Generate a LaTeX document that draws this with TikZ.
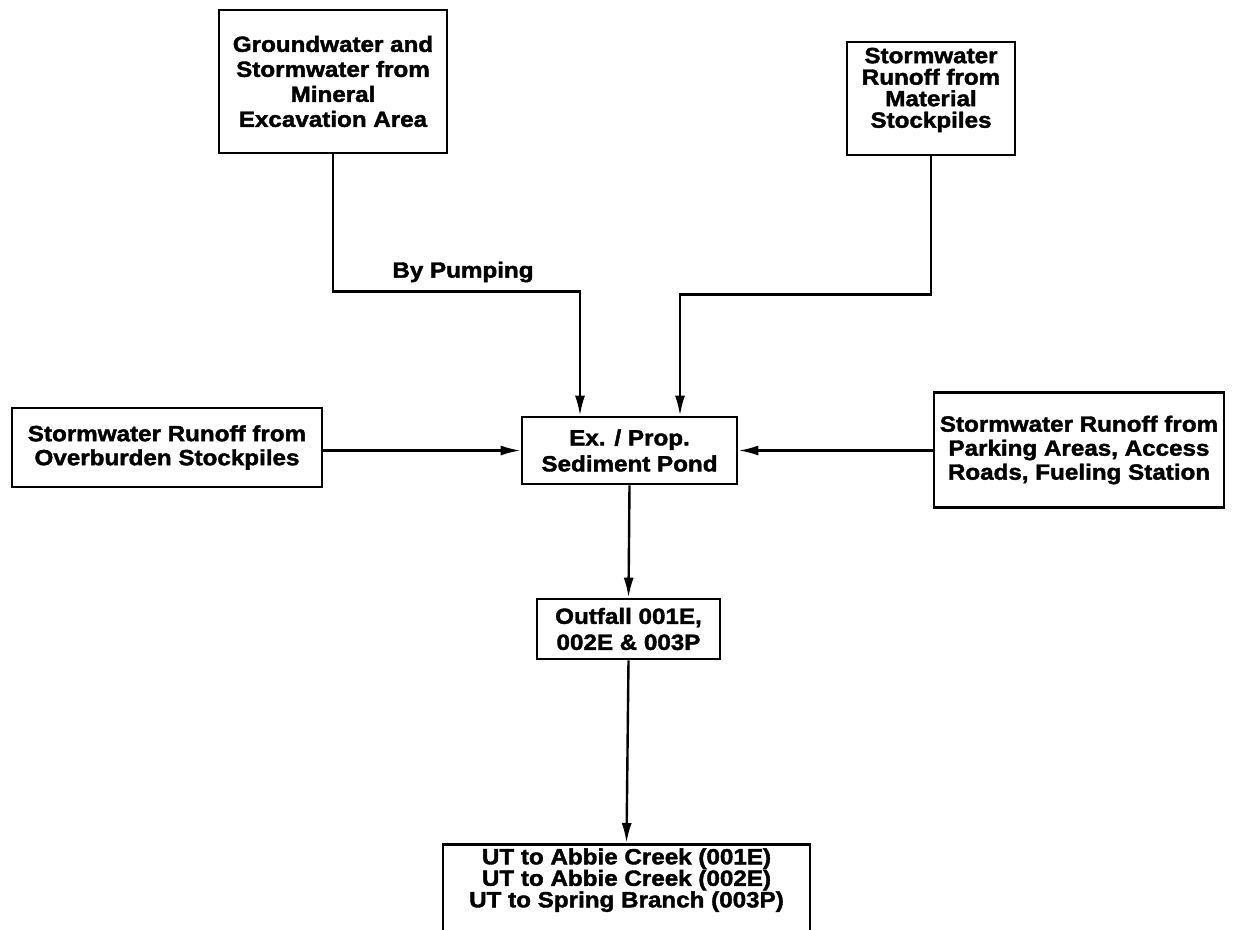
\documentclass[tikz,border=0pt]{standalone}
\usepackage{fontspec}
\newfontfamily\hv[FakeStretch=1.1,FakeBold=1.8]{Liberation Sans Bold}
\usetikzlibrary{arrows.meta}
\tikzset{
  box/.style={draw, line width=2.6pt, rectangle, align=center, inner sep=0pt},
  arr/.style={line width=2.4pt, -{Latex[length=20pt,width=10pt]}},
}
\begin{document}
\begin{tikzpicture}[x=1pt,y=-1pt]
\useasboundingbox (0,0) rectangle (1233,929);
\clip (0,0) rectangle (1233,929);
\fill[white] (0,0) rectangle (1233,929);
\node[box, minimum width=228pt, minimum height=143pt, font=\hv\fontsize{22}{25}\selectfont] (gw) at (333,81.5)
  {Groundwater and\\Stormwater from\\Mineral\\Excavation Area};
\node[box, minimum width=168pt, minimum height=113pt, font=\hv\fontsize{22}{21.5}\selectfont] (mat) at (931,98.5)
  {Stormwater\\Runoff from\\Material\\Stockpiles\\[0pt]\mbox{}};
\node[box, minimum width=215pt, minimum height=67pt, font=\hv\fontsize{22}{26}\selectfont] (pond) at (629.5,450.5)
  {Ex. / Prop.\\Sediment Pond};
\node[box, minimum width=310pt, minimum height=79pt, font=\hv\fontsize{22}{24}\selectfont] (over) at (167,447.5)
  {Stormwater Runoff from\\Overburden Stockpiles};
\node[box, minimum width=290pt, minimum height=115pt, font=\hv\fontsize{22}{24}\selectfont] (park) at (1079,450)
  {Stormwater Runoff from\\Parking Areas, Access\\Roads, Fueling Station};
\node[box, minimum width=183pt, minimum height=60pt, font=\hv\fontsize{22}{26}\selectfont] (out) at (628.5,629)
  {Outfall 001E,\\002E \& 003P};
\node[box, anchor=north, minimum width=367pt, minimum height=110pt, font=\hv\fontsize{22}{21.5}\selectfont] (ut) at (626.5,843)
  {UT to Abbie Creek (001E)\\UT to Abbie Creek (002E)\\UT to Spring Branch (003P)\\[15pt]\strut};
\node[font=\hv\fontsize{22}{24}\selectfont, inner sep=0pt] (pump) at (463,272) {By Pumping};
\draw[arr] (gw.south) -- ++(0,137) -| ([xshift=-49.5pt]pond.north);
\draw[arr] (mat.south) -- ++(0,138) -| ([xshift=50.5pt]pond.north);
\draw[arr] (over.east |- pond.west) -- (pond.west);
\draw[arr] (park.west |- pond.east) -- (pond.east);
\draw[arr] (pond.south) -- (out.north);
\draw[arr] (out.south) -- (ut.north);
\end{tikzpicture}
\end{document}
